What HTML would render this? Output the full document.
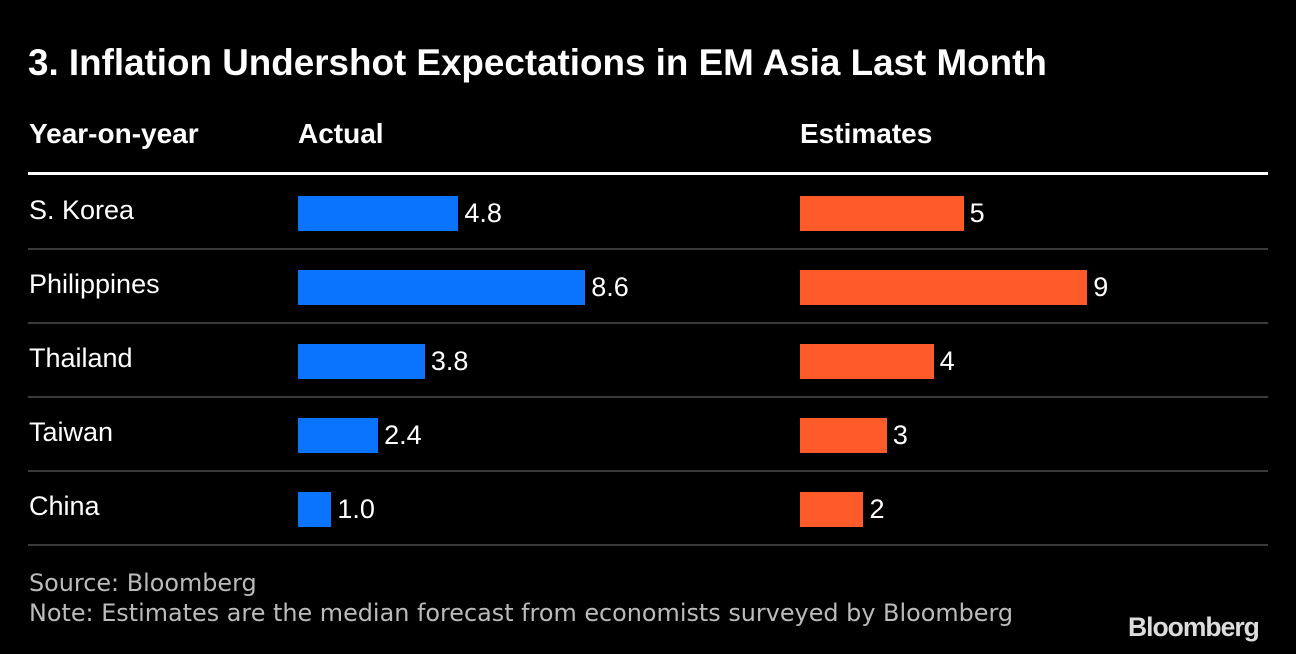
<!DOCTYPE html>
<html><head><meta charset="utf-8"><style>
body{margin:0;background:#000;width:1296px;height:654px;overflow:hidden;font-family:"Liberation Sans",sans-serif;color:#fff;position:relative}
.a{position:absolute;white-space:nowrap}
.title{left:28px;top:42px;font-size:36.8px;font-weight:bold}
.hd{top:118px;font-size:28px;font-weight:bold}
.lbl{font-size:27px;left:29px}
.val{font-size:27px}
.foot{left:29px;font-size:23.9px;color:#bbb;font-family:"DejaVu Sans",sans-serif}
</style></head><body>
<div class="a title">3. Inflation Undershot Expectations in EM Asia Last Month</div>
<div class="a hd" style="left:29px">Year-on-year</div>
<div class="a hd" style="left:298px">Actual</div>
<div class="a hd" style="left:800px">Estimates</div>
<div class="a" style="left:28px;top:172px;width:1240px;height:3px;background:#fff"></div>
<div id="rows"></div>
<div class="a foot" style="top:569px">Source: Bloomberg</div>
<div class="a foot" style="top:599px">Note: Estimates are the median forecast from economists surveyed by Bloomberg</div>
<div class="a" style="left:1128px;top:612px;font-size:26.5px;font-weight:bold;color:#ddd;letter-spacing:-1px">Bloomberg</div>
<script>
const countries=["S. Korea","Philippines","Thailand","Taiwan","China"];
const actual=[4.8,8.6,3.8,2.4,1.0];
const estimates=[4.9,8.6,4.0,2.6,1.9];
const actualLabels=["4.8","8.6","3.8","2.4","1.0"];
const estimateLabels=["5","9","4","3","2"];
const xA=v=>v*33.4, xE=v=>v*33.4;
const root=document.getElementById('rows');
function mk(css,cls){const d=document.createElement('div');d.className='a '+(cls||'');d.style.cssText=css;root.appendChild(d);return d;}
countries.forEach((c,i)=>{
  const top=196+i*74;
  const l=mk(`top:${top-1}px`,'lbl');l.textContent=c;
  
  
  const wa=xA(actual[i]);
  const b=mk(`left:298px;top:${top}px;width:${wa}px;height:35px;background:#0a74ff`);
  
  
  const v=mk(`left:${298+wa+6}px;top:${top+2}px`,'val');v.textContent=actualLabels[i];
  
  
  const we=xE(estimates[i]);
  const e=mk(`left:800px;top:${top}px;width:${we}px;height:35px;background:#ff5a2a`);
  
  
  const ev=mk(`left:${800+we+6}px;top:${top+2}px`,'val');ev.textContent=estimateLabels[i];
  
  
  const s=mk(`left:28px;top:${top+52}px;width:1240px;height:2px;background:#3a3a3a`);
  
  
});
</script>
</body></html>
